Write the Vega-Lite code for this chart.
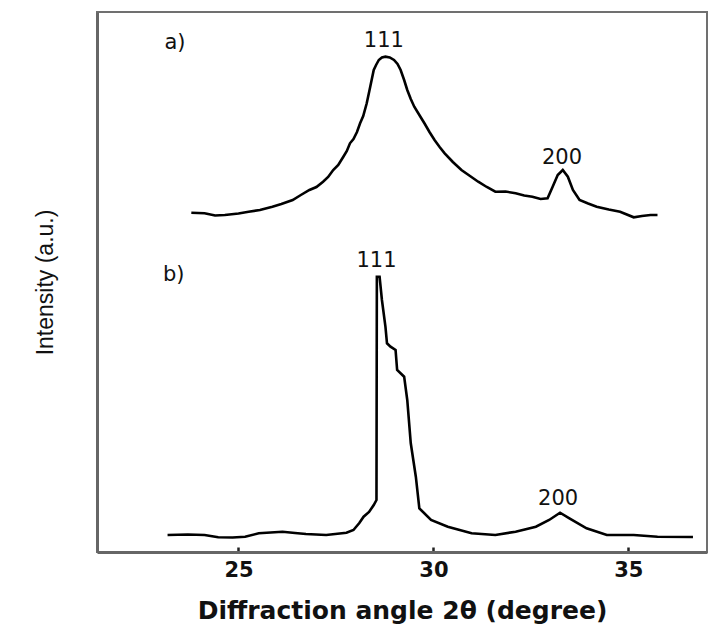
{
  "$schema": "https://vega.github.io/schema/vega-lite/v6.json",
  "width": 610,
  "height": 540,
  "autosize": {"type": "none"},
  "padding": {"left": 97, "top": 12, "right": 3, "bottom": 76},
  "background": "white",
  "config": {"view": {"stroke": "#707070", "strokeWidth": 2}, "font": "DejaVu Sans"},
  "datasets": {
    "xrd": [
      {"sample": "a", "angle": 23.79, "intensity": 339.3},
      {"sample": "a", "angle": 24.13, "intensity": 338.7},
      {"sample": "a", "angle": 24.4, "intensity": 336.5},
      {"sample": "a", "angle": 24.65, "intensity": 337},
      {"sample": "a", "angle": 25.0, "intensity": 338.5},
      {"sample": "a", "angle": 25.26, "intensity": 340.3},
      {"sample": "a", "angle": 25.55, "intensity": 342},
      {"sample": "a", "angle": 25.87, "intensity": 345.3},
      {"sample": "a", "angle": 26.1, "intensity": 348},
      {"sample": "a", "angle": 26.39, "intensity": 352},
      {"sample": "a", "angle": 26.6, "intensity": 357},
      {"sample": "a", "angle": 26.82, "intensity": 362},
      {"sample": "a", "angle": 27.0, "intensity": 365},
      {"sample": "a", "angle": 27.17, "intensity": 370.3},
      {"sample": "a", "angle": 27.3, "intensity": 375},
      {"sample": "a", "angle": 27.43, "intensity": 382},
      {"sample": "a", "angle": 27.56, "intensity": 387},
      {"sample": "a", "angle": 27.69, "intensity": 395.3},
      {"sample": "a", "angle": 27.78, "intensity": 401},
      {"sample": "a", "angle": 27.86, "intensity": 408.7},
      {"sample": "a", "angle": 27.95, "intensity": 413},
      {"sample": "a", "angle": 28.04, "intensity": 420},
      {"sample": "a", "angle": 28.12, "intensity": 428.7},
      {"sample": "a", "angle": 28.2, "intensity": 436},
      {"sample": "a", "angle": 28.29, "intensity": 448.7},
      {"sample": "a", "angle": 28.38, "intensity": 465.3},
      {"sample": "a", "angle": 28.47, "intensity": 482},
      {"sample": "a", "angle": 28.53, "intensity": 487},
      {"sample": "a", "angle": 28.6, "intensity": 492},
      {"sample": "a", "angle": 28.68, "intensity": 494.5},
      {"sample": "a", "angle": 28.77, "intensity": 495.3},
      {"sample": "a", "angle": 28.88, "intensity": 494.5},
      {"sample": "a", "angle": 28.99, "intensity": 492},
      {"sample": "a", "angle": 29.08, "intensity": 488},
      {"sample": "a", "angle": 29.16, "intensity": 482},
      {"sample": "a", "angle": 29.25, "intensity": 472},
      {"sample": "a", "angle": 29.33, "intensity": 462},
      {"sample": "a", "angle": 29.42, "intensity": 453},
      {"sample": "a", "angle": 29.51, "intensity": 445.3},
      {"sample": "a", "angle": 29.64, "intensity": 437},
      {"sample": "a", "angle": 29.77, "intensity": 428.7},
      {"sample": "a", "angle": 29.9, "intensity": 420},
      {"sample": "a", "angle": 30.03, "intensity": 412},
      {"sample": "a", "angle": 30.16, "intensity": 405},
      {"sample": "a", "angle": 30.29, "intensity": 398.7},
      {"sample": "a", "angle": 30.5, "intensity": 390},
      {"sample": "a", "angle": 30.72, "intensity": 382},
      {"sample": "a", "angle": 30.94, "intensity": 376},
      {"sample": "a", "angle": 31.15, "intensity": 370.3},
      {"sample": "a", "angle": 31.37, "intensity": 365},
      {"sample": "a", "angle": 31.59, "intensity": 360.3},
      {"sample": "a", "angle": 31.85, "intensity": 360.5},
      {"sample": "a", "angle": 32.11, "intensity": 358.7},
      {"sample": "a", "angle": 32.33, "intensity": 356.5},
      {"sample": "a", "angle": 32.54, "intensity": 355.3},
      {"sample": "a", "angle": 32.75, "intensity": 353},
      {"sample": "a", "angle": 32.93, "intensity": 353.7},
      {"sample": "a", "angle": 33.06, "intensity": 365.3},
      {"sample": "a", "angle": 33.19, "intensity": 377},
      {"sample": "a", "angle": 33.32, "intensity": 382},
      {"sample": "a", "angle": 33.45, "intensity": 375.3},
      {"sample": "a", "angle": 33.58, "intensity": 362},
      {"sample": "a", "angle": 33.75, "intensity": 352},
      {"sample": "a", "angle": 33.97, "intensity": 348.5},
      {"sample": "a", "angle": 34.19, "intensity": 345.3},
      {"sample": "a", "angle": 34.5, "intensity": 342.5},
      {"sample": "a", "angle": 34.79, "intensity": 340.3},
      {"sample": "a", "angle": 35.14, "intensity": 334.7},
      {"sample": "a", "angle": 35.35, "intensity": 336},
      {"sample": "a", "angle": 35.57, "intensity": 337},
      {"sample": "a", "angle": 35.75, "intensity": 337},
      {"sample": "b", "angle": 23.18, "intensity": 17},
      {"sample": "b", "angle": 23.7, "intensity": 17.5},
      {"sample": "b", "angle": 24.13, "intensity": 17},
      {"sample": "b", "angle": 24.48, "intensity": 14.7},
      {"sample": "b", "angle": 24.85, "intensity": 14.5},
      {"sample": "b", "angle": 25.17, "intensity": 15.3},
      {"sample": "b", "angle": 25.52, "intensity": 18.7},
      {"sample": "b", "angle": 26.13, "intensity": 20.3},
      {"sample": "b", "angle": 26.45, "intensity": 19},
      {"sample": "b", "angle": 26.73, "intensity": 18},
      {"sample": "b", "angle": 27.25, "intensity": 17},
      {"sample": "b", "angle": 27.77, "intensity": 19.3},
      {"sample": "b", "angle": 27.95, "intensity": 22},
      {"sample": "b", "angle": 28.1, "intensity": 29},
      {"sample": "b", "angle": 28.21, "intensity": 35.3},
      {"sample": "b", "angle": 28.35, "intensity": 40},
      {"sample": "b", "angle": 28.47, "intensity": 47},
      {"sample": "b", "angle": 28.54, "intensity": 52},
      {"sample": "b", "angle": 28.55, "intensity": 275.3},
      {"sample": "b", "angle": 28.62, "intensity": 275.3},
      {"sample": "b", "angle": 28.68, "intensity": 252},
      {"sample": "b", "angle": 28.77, "intensity": 225.3},
      {"sample": "b", "angle": 28.81, "intensity": 208.7},
      {"sample": "b", "angle": 28.9, "intensity": 205.3},
      {"sample": "b", "angle": 29.03, "intensity": 202},
      {"sample": "b", "angle": 29.07, "intensity": 182},
      {"sample": "b", "angle": 29.25, "intensity": 175.3},
      {"sample": "b", "angle": 29.33, "intensity": 152},
      {"sample": "b", "angle": 29.42, "intensity": 108.7},
      {"sample": "b", "angle": 29.55, "intensity": 75.3},
      {"sample": "b", "angle": 29.64, "intensity": 43.7},
      {"sample": "b", "angle": 29.94, "intensity": 32},
      {"sample": "b", "angle": 30.37, "intensity": 25.3},
      {"sample": "b", "angle": 30.98, "intensity": 18.7},
      {"sample": "b", "angle": 31.59, "intensity": 17},
      {"sample": "b", "angle": 32.11, "intensity": 20.3},
      {"sample": "b", "angle": 32.63, "intensity": 25.3},
      {"sample": "b", "angle": 32.97, "intensity": 32},
      {"sample": "b", "angle": 33.25, "intensity": 39.3},
      {"sample": "b", "angle": 33.49, "intensity": 33.7},
      {"sample": "b", "angle": 33.93, "intensity": 23.7},
      {"sample": "b", "angle": 34.45, "intensity": 17},
      {"sample": "b", "angle": 35.14, "intensity": 17},
      {"sample": "b", "angle": 35.75, "intensity": 15.3},
      {"sample": "b", "angle": 36.66, "intensity": 15}
    ],
    "labels": [
      {"angle": 23.37, "intensity": 509, "label": "a)"},
      {"angle": 28.73, "intensity": 511, "label": "111"},
      {"angle": 33.3, "intensity": 394, "label": "200"},
      {"angle": 23.34, "intensity": 277, "label": "b)"},
      {"angle": 28.54, "intensity": 291, "label": "111"},
      {"angle": 33.2, "intensity": 53.5, "label": "200"}
    ]
  },
  "layer": [
    {
      "data": {"name": "xrd"},
      "mark": {"type": "line", "color": "black", "strokeWidth": 2.6},
      "encoding": {
        "x": {
          "field": "angle",
          "type": "quantitative",
          "scale": {"domain": [21.37, 37.02], "nice": false, "zero": false},
          "axis": {
            "title": "Diffraction angle 2θ (degree)",
            "values": [25, 30, 35],
            "grid": false,
            "domainColor": "#666666",
            "domainWidth": 3,
            "tickColor": "#222222",
            "tickSize": -5,
            "tickWidth": 2.5,
            "labelFont": "DejaVu Sans",
            "labelFontSize": 21,
            "labelFontWeight": "bold",
            "labelColor": "#111111",
            "labelPadding": 12,
            "titleFont": "DejaVu Sans",
            "titleFontSize": 25,
            "titleFontWeight": "bold",
            "titleColor": "#111111",
            "titlePadding": 18
          }
        },
        "y": {
          "field": "intensity",
          "type": "quantitative",
          "scale": {"domain": [0, 540], "nice": false, "zero": false},
          "axis": {
            "title": "Intensity (a.u.)",
            "ticks": false,
            "labels": false,
            "grid": false,
            "domainColor": "#666666",
            "domainWidth": 3,
            "titleFont": "Liberation Sans",
            "titleFontSize": 23,
            "titleFontWeight": "normal",
            "titleColor": "#111111",
            "titlePadding": 40
          }
        },
        "detail": {"field": "sample"}
      }
    },
    {
      "data": {"name": "labels"},
      "mark": {"type": "text", "fontSize": 21, "font": "DejaVu Sans", "color": "#111111", "baseline": "middle", "align": "center"},
      "encoding": {
        "x": {"field": "angle", "type": "quantitative"},
        "y": {"field": "intensity", "type": "quantitative"},
        "text": {"field": "label"}
      }
    }
  ]
}
